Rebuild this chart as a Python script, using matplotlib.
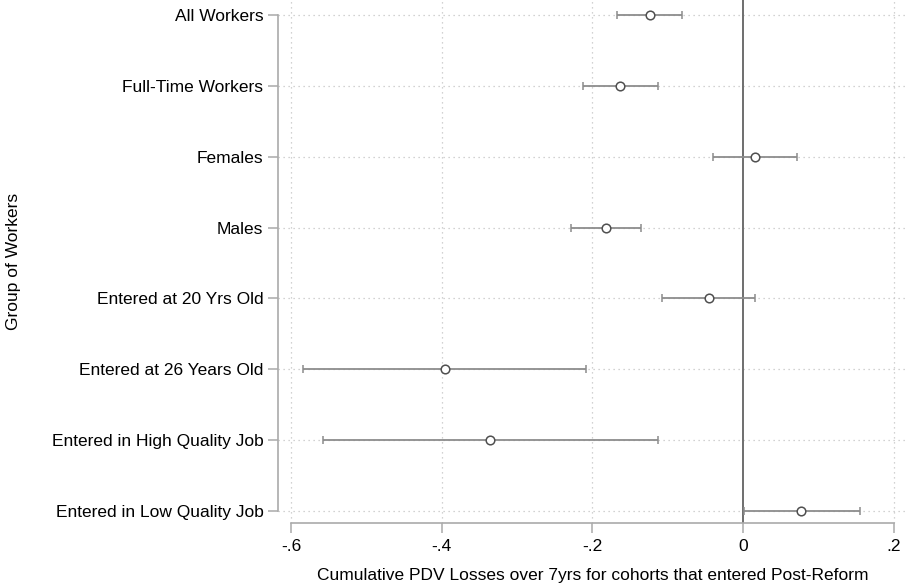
import numpy as np
import matplotlib.pyplot as plt

plt.rcParams['font.family'] = ['Liberation Sans', 'DejaVu Sans']

groups = ['All Workers', 'Full-Time Workers', 'Females', 'Males',
          'Entered at 20 Yrs Old', 'Entered at 26 Years Old',
          'Entered in High Quality Job', 'Entered in Low Quality Job']
est = [-0.124, -0.163, 0.016, -0.182, -0.045, -0.396, -0.336, 0.077]
lo = [-0.167, -0.212, -0.040, -0.229, -0.108, -0.584, -0.558, 0.001]
hi = [-0.081, -0.113, 0.072, -0.136, 0.016, -0.209, -0.113, 0.155]
xticks = [-0.6, -0.4, -0.2, 0, 0.2]
xticklabels = ['-.6', '-.4', '-.2', '0', '.2']

fig = plt.figure(figsize=(9.07, 5.86), dpi=100)
ax = fig.add_axes([278 / 907, 63 / 586, 629 / 907, 523 / 586])

y = np.arange(len(groups))
est = np.array(est)
err = [est - np.array(lo), np.array(hi) - est]

ax.axvline(0, color='#6e6e6e', lw=1.4, zorder=2)
ax.errorbar(est, y, xerr=err, fmt='none', ecolor='#8c8c8c', elinewidth=1.3,
            capsize=3, capthick=1.1, zorder=3)
ax.plot(est, y, 'o', mfc='white', mec='#505050', mew=1.1, ms=6.2, zorder=4)

# dotted grid
for yy in y:
    ax.axhline(yy, color='#c4c4c4', lw=0.9, ls=(0, (1, 3)), zorder=1)
for xx in xticks:
    if xx != 0:
        ax.axvline(xx, color='#c4c4c4', lw=0.9, ls=(0, (1, 3)), zorder=1)

ax.set_xlim(-0.6 - 13 / 751.7, 0.2 + 13 / 751.7)
ax.set_ylim(7 + 12 / 70.86, -15 / 70.86)

ax.set_yticks(y)
ax.set_yticklabels(groups, fontsize=12.5)
ax.set_xticks(xticks)
ax.set_xticklabels(xticklabels, fontsize=12.5)

ax.spines['top'].set_visible(False)
ax.spines['right'].set_visible(False)
ax.spines['left'].set_bounds(0, 7)
ax.spines['bottom'].set_bounds(-0.6, 0.2)
for s in ['left', 'bottom']:
    ax.spines[s].set_color('#aaaaaa')
    ax.spines[s].set_linewidth(1.2)
ax.tick_params(axis='both', color='#aaaaaa', length=7, width=1.1, pad=3.5)
ax.tick_params(axis='x', pad=4.5)

ax.set_xlabel('Cumulative PDV Losses over 7yrs for cohorts that entered Post-Reform',
              fontsize=12.5, labelpad=10)
ax.set_ylabel('Group of Workers', fontsize=12.5, labelpad=22)

fig.savefig('out.png', dpi=100)
